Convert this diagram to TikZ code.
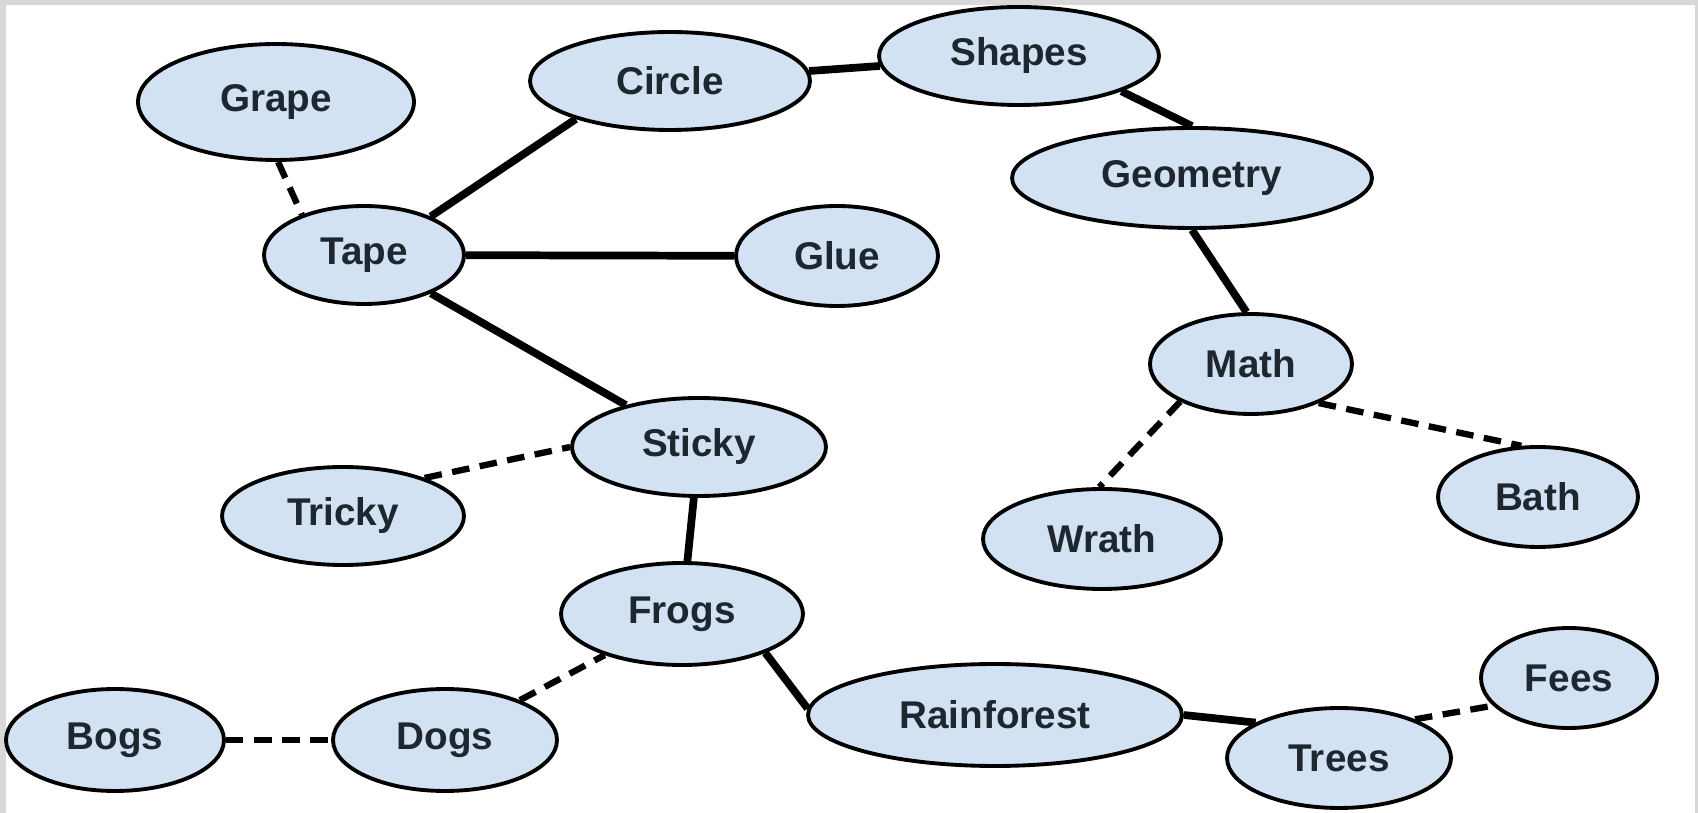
\documentclass[tikz,border=0pt]{standalone}
\usepackage{fontspec}
\setmainfont{Liberation Sans}
\usetikzlibrary{shapes.geometric}

\definecolor{bubble}{RGB}{210,226,243}
\definecolor{wordgray}{RGB}{30,38,48}
\definecolor{framegray}{RGB}{216,216,216}

\tikzset{
  topic/.style={ellipse, draw=black, line width=2.2pt, fill=bubble, inner sep=0pt,
    text=wordgray, font=\bfseries\fontsize{22}{24}\selectfont},
  strong/.style={line width=4.4pt},
  weak/.style={line width=3.6pt, dash pattern=on 10pt off 6pt}
}

\begin{document}
\begin{tikzpicture}[x=0.02cm, y=-0.02cm]
% Set the frame and the white page
\useasboundingbox (0,0) rectangle (1698,813);
\fill[framegray] (0,0) rectangle (1698,813);
\fill[white] (6,5) rectangle (1695,813);

% Draw the word bubbles
\node[topic, minimum width=5.52cm, minimum height=2.32cm] (grape) at (276,102) {Grape};
\node[topic, minimum width=5.6cm, minimum height=1.96cm] (circle) at (670,81) {Circle};
\node[topic, minimum width=5.6cm, minimum height=1.96cm] (shapes) at (1019,56) {Shapes};
\node[topic, minimum width=7.2cm, minimum height=2.0cm] (geometry) at (1192,178) {Geometry};
\node[topic, minimum width=4.0cm, minimum height=1.96cm] (tape) at (364,255) {Tape};
\node[topic, minimum width=4.04cm, minimum height=2.0cm] (glue) at (837,256) {Glue};
\node[topic, minimum width=4.04cm, minimum height=2.0cm] (math) at (1251,364) {Math};
\node[topic, minimum width=5.08cm, minimum height=1.96cm] (sticky) at (699,447) {Sticky};
\node[topic, minimum width=4.84cm, minimum height=1.96cm] (tricky) at (343,516) {Tricky};
\node[topic, minimum width=4.76cm, minimum height=2.0cm] (wrath) at (1102,539) {Wrath};
\node[topic, minimum width=4.0cm, minimum height=2.0cm] (bath) at (1538,497) {Bath};
\node[topic, minimum width=4.84cm, minimum height=2.04cm] (frogs) at (682,614) {Frogs};
\node[topic, minimum width=4.36cm, minimum height=2.04cm] (bogs) at (115,740) {Bogs};
\node[topic, minimum width=4.48cm, minimum height=2.04cm] (dogs) at (445,740) {Dogs};
\node[topic, minimum width=7.48cm, minimum height=2.04cm] (rainforest) at (995,715) {Rainforest};
\node[topic, minimum width=4.48cm, minimum height=2.0cm] (trees) at (1339,758) {Trees};
\node[topic, minimum width=3.52cm, minimum height=2.0cm] (fees) at (1569,678) {Fees};

% Solid links
\draw[strong] (tape.30) -- (circle.202);
\draw[strong] (circle) -- (shapes);
\draw[strong] (shapes.-19) -- (geometry.90);
\draw[strong] (geometry.-90) -- (math.95);
\draw[strong] (tape) -- (glue);
\draw[strong] (tape) -- (sticky);
\draw[strong] (sticky) -- (frogs);
\draw[strong] (frogs.-25) -- (rainforest.178);
\draw[strong] (rainforest.0) -- (trees.157);

% Dashed links
\draw[weak] (grape.-88) -- (tape.147);
\draw[weak] (tricky.25) -- (sticky.180);
\draw[weak] (math.208) -- (wrath.93);
\draw[weak] (math.-30) -- (bath.108);
\draw[weak] (bogs) -- (dogs);
\draw[weak] (dogs) -- (frogs);
\draw[weak] (trees.27) -- (fees.200);
\end{tikzpicture}
\end{document}
